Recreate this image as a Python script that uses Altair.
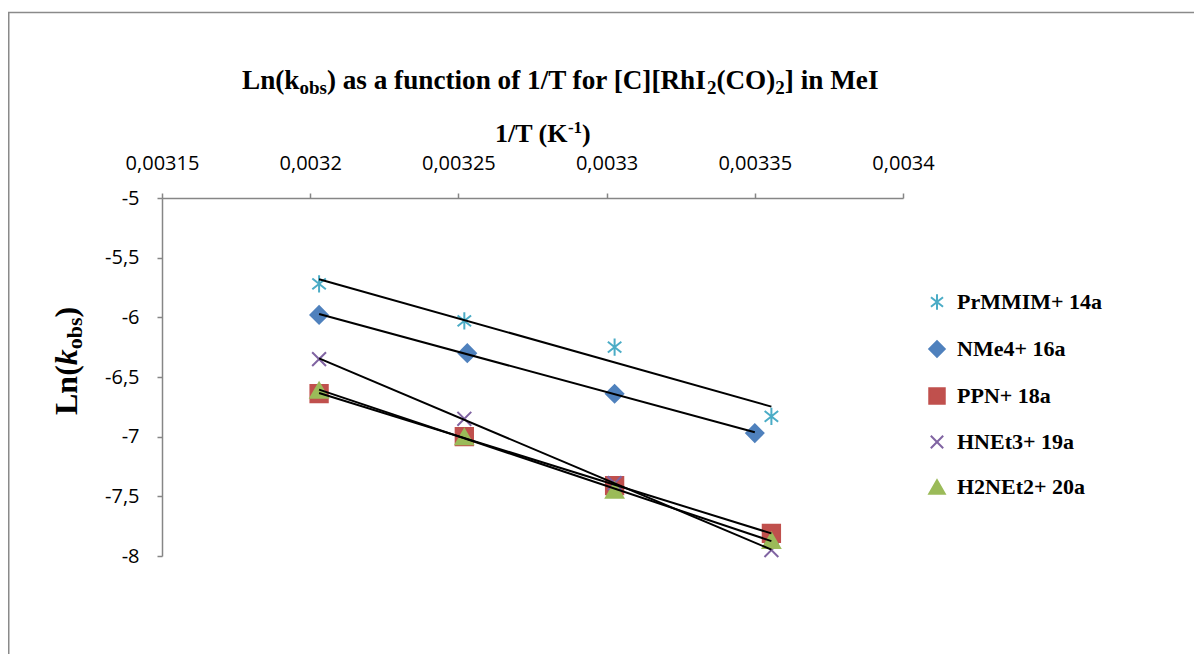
import altair as alt
import pandas as pd

# ---------------- data ----------------
series_names = ["PrMMIM+ 14a", "NMe4+ 16a", "PPN+ 18a", "HNEt3+ 19a", "H2NEt2+ 20a"]

inv_T_common = [0.003203, 0.003252, 0.0033027, 0.0033556]
inv_T_nme4 = [0.003203, 0.003253, 0.0033027, 0.00335]

ln_k_prmmim = [-5.72, -6.03, -6.25, -6.83]
ln_k_nme4 = [-5.98, -6.30, -6.64, -6.97]
ln_k_ppn = [-6.64, -7.00, -7.41, -7.81]
ln_k_hnet3 = [-6.35, -6.85, -7.39, -7.95]
ln_k_h2net2 = [-6.61, -7.00, -7.45, -7.87]

x_ticks = [0.00315, 0.0032, 0.00325, 0.0033, 0.00335, 0.0034]
y_ticks = [-5, -5.5, -6, -6.5, -7, -7.5, -8]

stroke_colors = ["#4BACC6", "#4F81BD", "#C0504D", "#8064A2", "#9BBB59"]
fill_colors = ["transparent", "#4F81BD", "#C0504D", "transparent", "#9BBB59"]
asterisk = "M0,-1L0,1M-0.78,-0.62L0.78,0.62M-0.78,0.62L0.78,-0.62"
xmark = "M-0.8,-0.8L0.8,0.8M-0.8,0.8L0.8,-0.8"
shapes = [asterisk, "diamond", "square", xmark, "triangle-up"]

rows = []
for name, xs, ys in [
    (series_names[0], inv_T_common, ln_k_prmmim),
    (series_names[1], inv_T_nme4, ln_k_nme4),
    (series_names[2], inv_T_common, ln_k_ppn),
    (series_names[3], inv_T_common, ln_k_hnet3),
    (series_names[4], inv_T_common, ln_k_h2net2),
]:
    for xv, yv in zip(xs, ys):
        rows.append({"series": name, "x": xv, "y": yv})
df = pd.DataFrame(rows)

# ---------------- layout (plot area origin at page 162,198) ----------------
PAD_L, PAD_T = 154, 190
W, H = 741, 358

AXIS_GREY = "#868686"
TICK_FONT = "Open Sans"
SERIF = "Liberation Serif"

x_scale = alt.Scale(domain=[0.00315, 0.0034], nice=False, zero=False)
y_scale = alt.Scale(domain=[-8, -5], nice=False, zero=False)

x_axis = alt.Axis(
    orient="top", values=x_ticks, title=None, grid=False,
    labelExpr="replace(format(datum.value, '.5~f'), '.', ',')",
    labelFont=TICK_FONT, labelFontSize=20, labelColor="black",
    labelPadding=20, labelFlush=False, labelOverlap=False,
    tickSize=5, tickColor=AXIS_GREY, tickWidth=1.5,
    domainColor=AXIS_GREY, domainWidth=1.5,
)
y_axis = alt.Axis(
    values=y_ticks, title=None, grid=False,
    labelExpr="replace(replace(format(datum.value, '~g'), '.', ','), '\u2212', '-')",
    labelFont=TICK_FONT, labelFontSize=20, labelColor="black",
    labelPadding=18, labelFlush=False, labelOverlap=False,
    tickSize=5, tickColor=AXIS_GREY, tickWidth=1.5,
    domainColor=AXIS_GREY, domainWidth=1.5,
)

leg = alt.Legend(
    title=None, orient="none", legendX=764, legendY=93,
    labelFont=SERIF, labelFontWeight="bold", labelFontSize=22, labelColor="black",
    symbolSize=240, symbolStrokeWidth=2, rowPadding=23, labelOffset=9,
    symbolOpacity=1,
)

points = alt.Chart(df).mark_point(filled=True, size=300, strokeWidth=2, opacity=1).encode(
    x=alt.X("x:Q", scale=x_scale, axis=x_axis),
    y=alt.Y("y:Q", scale=y_scale, axis=y_axis),
    shape=alt.Shape("series:N", scale=alt.Scale(domain=series_names, range=shapes), legend=leg),
    fill=alt.Fill("series:N", scale=alt.Scale(domain=series_names, range=fill_colors), legend=leg),
    stroke=alt.Stroke("series:N", scale=alt.Scale(domain=series_names, range=stroke_colors), legend=leg),
)

trend = alt.Chart(df).transform_regression(
    "x", "y", groupby=["series"]
).mark_line(color="black", strokeWidth=2).encode(
    x=alt.X("x:Q", scale=x_scale, axis=x_axis),
    y=alt.Y("y:Q", scale=y_scale, axis=y_axis),
    detail="series:N",
)

# ---------------- rich-text titles built from pieces ----------------
TB = {" ": 250, "(": 333, ")": 333, "[": 333, "]": 333, "/": 278, "1": 500, "2": 500,
      "C": 722, "I": 389, "K": 778, "L": 667, "M": 944, "O": 778, "R": 722, "T": 667,
      "a": 500, "b": 556, "c": 444, "e": 444, "f": 333, "h": 556, "i": 278, "k": 556,
      "n": 556, "o": 500, "r": 444, "s": 389, "t": 333, "u": 556, "-": 333}


def tw(text, size):
    return sum(TB.get(ch, 500) for ch in text) / 1000.0 * size


one = alt.Data(values=[{"k": 1}])


def piece(text, x, y, size, italic=False, angle=0):
    return alt.Chart(one).mark_text(
        text=text, font=SERIF, fontSize=size, fontWeight="bold",
        fontStyle="italic" if italic else "normal",
        align="left", baseline="alphabetic", angle=angle, color="black",
    ).encode(x=alt.value(x), y=alt.value(y))


layers = []

# Chart title
T_MAIN, T_SUB = 27.2, 19
title_parts = [("Ln(k", False), ("obs", True), (") as a function of 1/T for [C][RhI", False),
               ("2", True), ("(CO)", False), ("2", True), ("] in MeI", False)]
cx = 242 - 162
base_y = 89 - 198
for txt, sub in title_parts:
    size = T_SUB if sub else T_MAIN
    layers.append(piece(txt, cx, base_y + (5 if sub else 0), size))
    cx += tw(txt, size)

# X axis title  1/T (K^-1)
X_MAIN, X_SUP = 26, 17
cx = 495 - 162
xb = 142 - 198
for txt, sup in [("1/T (K", False), ("-1", True), (")", False)]:
    size = X_SUP if sup else X_MAIN
    layers.append(piece(txt, cx, xb - (9 if sup else 0), size))
    cx += tw(txt, size)

# Y axis title Ln(k_obs), rotated
Y_MAIN, Y_SUB = 32, 22
cy = 415 - 198
yb = 77 - 162
for txt, kind in [("Ln(", "n"), ("k", "i"), ("obs", "s"), (")", "n")]:
    size = Y_SUB if kind == "s" else Y_MAIN
    layers.append(piece(txt, yb + (5 if kind == "s" else 0), cy, size,
                        italic=(kind == "i"), angle=270))
    cy -= (500 / 1000.0 * size) if kind == "i" else tw(txt, size)

# Outer chart border (top and left edges visible)
border_top = alt.Chart(one).mark_rule(color="#8a8a8a", strokeWidth=1.5).encode(
    x=alt.value(-PAD_L), x2=alt.value(1186 - PAD_L), y=alt.value(4.5 - PAD_T)
)
border_left = alt.Chart(one).mark_rule(color="#8a8a8a", strokeWidth=1.5).encode(
    x=alt.value(0.75 - PAD_L), y=alt.value(4.5 - PAD_T), y2=alt.value(646 - PAD_T)
)

chart = alt.layer(points, trend, border_top, border_left, *layers).properties(
    width=W, height=H,
    autosize=alt.AutoSizeParams(type="none"),
    padding={"left": PAD_L, "top": PAD_T, "right": 1186 - PAD_L - W, "bottom": 646 - PAD_T - H},
    background="white",
).configure_view(stroke=None)

chart.save("out.html", embed_options={"renderer": "svg", "actions": False})
